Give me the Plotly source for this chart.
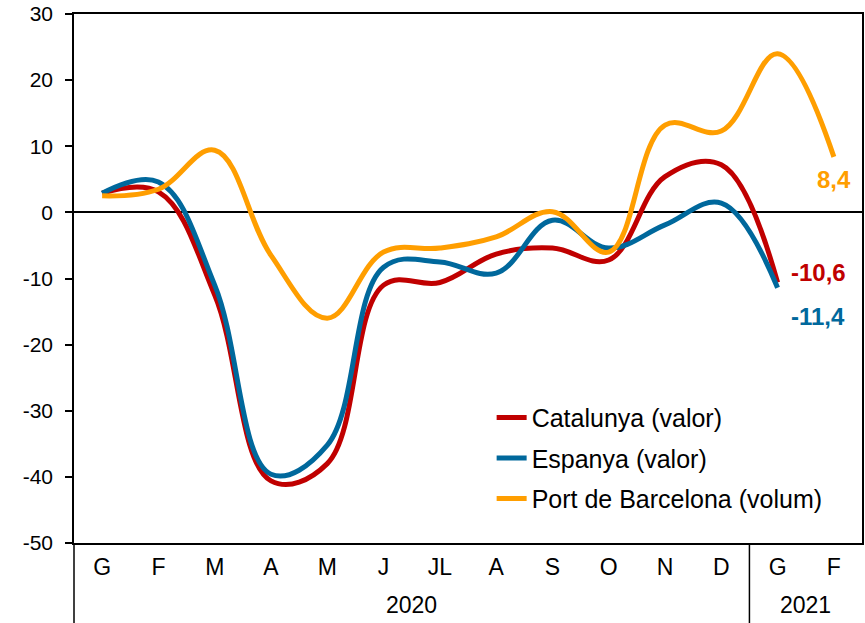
import plotly.graph_objects as go

# month labels (catalan initials), 2020 + first two months of 2021
months = ['G', 'F', 'M', 'A', 'M', 'J', 'JL', 'A', 'S', 'O', 'N', 'D', 'G', 'F']
catalunya = [2.9, 3.1, -12.5, -40.6, -38.0, -11.0, -10.6, -6.3, -5.4, -7.2, 5.4, 7.2, -10.6]
espanya = [2.9, 4.6, -11.0, -39.6, -35.2, -8.3, -7.5, -9.2, -1.2, -5.4, -1.9, 1.4, -11.4]
port_bcn = [2.5, 3.5, 9.4, -6.5, -16.0, -6.0, -5.4, -3.7, 0.1, -6.0, 13.2, 12.3, 24.0, 8.4]
y_ticks = [-50, -40, -30, -20, -10, 0, 10, 20, 30]

colors = {'red': '#C00000', 'blue': '#00689C', 'orange': '#FF9E00'}
FONT = 'Liberation Sans, Arial, sans-serif'

fig = go.Figure()

series = [('Catalunya (valor)', catalunya, colors['red']),
          ('Espanya (valor)', espanya, colors['blue']),
          ('Port de Barcelona (volum)', port_bcn, colors['orange'])]

for name, vals, col in series:
    fig.add_trace(go.Scatter(
        x=list(range(len(vals))),
        y=vals,
        mode='lines',
        name=name,
        legendgroup=name,
        line=dict(color=col, width=5, shape='spline', smoothing=1.1),
    ))

# end-of-series value labels
labels = [(12, catalunya[-1], '-10,6', colors['red'], 11, 10, 'left'),
          (12, espanya[-1], '-11,4', colors['blue'], 11, -29, 'left'),
          (13, port_bcn[-1], '8,4', colors['orange'], 0, -23, 'center')]
for x, y, txt, col, xs, ys, xa in labels:
    fig.add_annotation(x=x, y=y, text='<b>%s</b>' % txt, showarrow=False,
                       xanchor=xa, yanchor='middle', xshift=xs, yshift=ys,
                       font=dict(color=col, size=24, family=FONT))

# year labels under the month axis
fig.add_annotation(x=5.5, y=-0.117, xref='x', yref='paper', text='2020', showarrow=False,
                   font=dict(size=23, family=FONT, color='black'), yanchor='middle')
fig.add_annotation(x=12.5, y=-0.117, xref='x', yref='paper', text='2021', showarrow=False,
                   font=dict(size=23, family=FONT, color='black'), yanchor='middle')

# vertical separators below the axis
fig.add_shape(type='line', xref='x', yref='paper', x0=11.5, x1=11.5, y0=0, y1=-0.16,
              line=dict(color='black', width=1.5))
fig.add_shape(type='line', xref='paper', yref='paper', x0=0, x1=0, y0=0, y1=-0.16,
              line=dict(color='black', width=1.5))

fig.update_xaxes(
    range=[-0.5, 13.5],
    tickvals=list(range(len(months))),
    ticktext=months,
    showgrid=False, zeroline=False, automargin=False,
    showline=True, mirror=True, linecolor='black', linewidth=1.5,
    ticks='', ticklabelstandoff=3,
    tickfont=dict(size=23, family=FONT, color='black'),
)
fig.update_yaxes(
    range=[-50, 30],
    tickvals=y_ticks,
    ticktext=[str(v) for v in y_ticks],
    showgrid=False, automargin=False,
    zeroline=True, zerolinecolor='black', zerolinewidth=1.5,
    showline=True, mirror=True, linecolor='black', linewidth=1.5,
    ticks='outside', ticklen=7, tickcolor='black', tickwidth=1.5,
    ticklabelstandoff=8,
    tickfont=dict(size=21, family=FONT, color='black'),
)

fig.update_layout(
    width=865, height=623,
    margin=dict(l=74, r=3, t=14, b=80),
    plot_bgcolor='white', paper_bgcolor='white',
    font=dict(family=FONT, size=20, color='black'),
    legend=dict(x=0.53, y=0.16, xanchor='left', yanchor='middle',
                bgcolor='rgba(0,0,0,0)', tracegroupgap=5,
                font=dict(size=25, family=FONT, color='black')),
    showlegend=True,
)

# drop the default body margin so the figure sits at the page corner
fig.write_html("out.html", config={'displayModeBar': False},
               post_script="document.body.style.margin='0';")
